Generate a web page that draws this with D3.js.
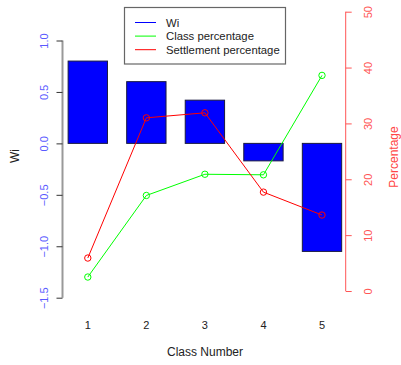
<!DOCTYPE html>
<html><head><meta charset="utf-8">
<script src="https://cdn.jsdelivr.net/npm/d3@7"></script>
<style>body{margin:0;background:#fff;} svg{display:block;font-family:"Liberation Sans",Arial,sans-serif;}</style>
</head><body>
<script>
const classes = [1, 2, 3, 4, 5];
const wi = [0.80, 0.60, 0.42, -0.17, -1.05];
const classPct = [2.5, 17.1, 20.9, 20.8, 38.6];
const settlePct = [5.9, 31.0, 31.9, 17.7, 13.6];
const leftTicks = [-1.5, -1.0, -0.5, 0.0, 0.5, 1.0];
const rightTicks = [0, 10, 20, 30, 40, 50];
const legendLabels = ["Wi", "Class percentage", "Settlement percentage"];
const legendColors = ["#0000ff", "#00ff00", "#ff0000"];

const W = 401, H = 365;
const svg = d3.select("body").append("svg").attr("width", W).attr("height", H);

const x = d3.scaleLinear().domain([1, 5]).range([87.8, 322]);
const yL = d3.scaleLinear().domain([-1.5, 1.0]).range([297.7, 40.5]);
const yR = d3.scaleLinear().domain([0, 50]).range([291, 11.7]);
const half = 0.336;

// bars
svg.append("g").selectAll("rect").data(classes).join("rect")
  .attr("x", (d) => x(d - half))
  .attr("width", (d) => x(d + half) - x(d - half))
  .attr("y", (d, i) => yL(Math.max(0, wi[i])))
  .attr("height", (d, i) => Math.abs(yL(wi[i]) - yL(0)))
  .attr("fill", "#0000ff").attr("stroke", "#1a1a40").attr("stroke-width", 1);

// left axis
const gL = svg.append("g").attr("transform", "translate(62.5,0)");
gL.call(d3.axisLeft(yL).tickValues(leftTicks).tickFormat(d3.format(".1f")).tickSize(6));
gL.select(".domain").attr("stroke", "#999").attr("stroke-width", 2).attr("d", `M0,${yL(-1.5)}V${yL(1)}`);
gL.selectAll(".tick line").attr("stroke", "#333");
gL.selectAll(".tick text").attr("fill", "#5a5aff").attr("font-size", 11)
  .attr("x", 0).attr("y", -15).attr("dy", null)
  .attr("text-anchor", "middle").attr("transform", "rotate(-90)");

// right axis
const gR = svg.append("g").attr("transform", "translate(345.7,0)");
gR.call(d3.axisRight(yR).tickValues(rightTicks).tickSize(6));
gR.select(".domain").attr("stroke", "#ff5555").attr("d", `M0,${yR(0)}V${yR(50)}`);
gR.selectAll(".tick line").attr("stroke", "#ff5555");
gR.selectAll(".tick text").attr("fill", "#ff5555").attr("font-size", 11)
  .attr("x", 0).attr("y", 0).attr("dy", null)
  .attr("text-anchor", "middle").attr("transform", "rotate(-90) translate(0,26)");

// x tick labels
svg.append("g").selectAll("text").data(classes).join("text")
  .attr("x", (d) => x(d)).attr("y", 329).attr("text-anchor", "middle")
  .attr("font-size", 11).attr("fill", "#222").text((d) => d);

// lines
const line = (arr) => d3.line().x((d, i) => x(classes[i])).y((d) => yR(d))(arr);
[[classPct, "#00ff00"], [settlePct, "#ff0000"]].forEach(([arr, c]) => {
  svg.append("path").attr("d", line(arr)).attr("fill", "none").attr("stroke", c).attr("stroke-width", 1);
  svg.append("g").selectAll("circle").data(arr).join("circle")
    .attr("cx", (d, i) => x(classes[i])).attr("cy", (d) => yR(d)).attr("r", 3.2)
    .attr("fill", "none").attr("stroke", c).attr("stroke-width", 1);
});

// axis titles
svg.append("text").attr("transform", "translate(19,156) rotate(-90)").attr("text-anchor", "middle")
  .attr("font-size", 12).attr("fill", "#222").text("Wi");
svg.append("text").attr("transform", "translate(398,157) rotate(-90)").attr("text-anchor", "middle")
  .attr("font-size", 12).attr("fill", "#ff4444").text("Percentage");
svg.append("text").attr("x", 205).attr("y", 356).attr("text-anchor", "middle")
  .attr("font-size", 12).attr("fill", "#222").text("Class Number");

// legend
const lg = svg.append("g");
lg.append("rect").attr("x", 124.5).attr("y", 7.5).attr("width", 161).attr("height", 56.5)
  .attr("fill", "#fff").attr("stroke", "#666").attr("stroke-width", 1.2);
legendLabels.forEach((t, i) => {
  const yy = 22.5 + i * 13.6;
  lg.append("line").attr("x1", 135).attr("x2", 156).attr("y1", yy).attr("y2", yy).attr("stroke", legendColors[i]);
  lg.append("text").attr("x", 166).attr("y", yy + 4).attr("font-size", 11.3).attr("fill", "#222").text(t);
});
</script>
</body></html>
